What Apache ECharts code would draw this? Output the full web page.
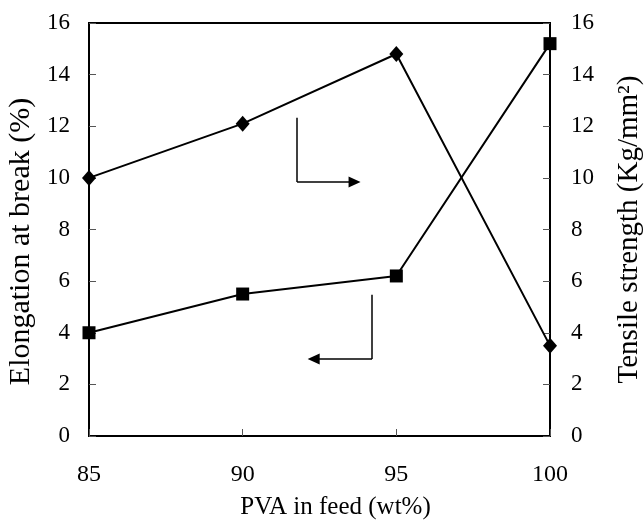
<!DOCTYPE html>
<html>
<head>
<meta charset="utf-8">
<script src="https://cdn.jsdelivr.net/npm/echarts@6/dist/echarts.min.js"></script>
<style>html,body{margin:0;padding:0;background:#fff}#c{width:644px;height:529px}</style>
</head>
<body>
<div id="c"></div>
<script>
const pva = [85, 90, 95, 100];
const elongation = [4.0, 5.5, 6.2, 15.2];
const tensile = [10.0, 12.1, 14.8, 3.5];
const yTicks = [0, 2, 4, 6, 8, 10, 12, 14, 16];
const xTicks = [85, 90, 95, 100];

const font = 'Liberation Serif';
const chart = echarts.init(document.getElementById('c'));
const axisCommon = {
  axisLine: {show: true, lineStyle: {color: '#000', width: 2}},
  axisTick: {show: true, inside: true, length: 7, lineStyle: {color: '#555', width: 1}},
  splitLine: {show: false},
  axisLabel: {color: '#000', fontFamily: font, fontSize: 23}
};
chart.setOption({
  animation: false,
  backgroundColor: '#fff',
  grid: {left: 89, right: 94, top: 23, bottom: 93, show: true, borderColor: '#000', borderWidth: 2,
         containLabel: false, outerBoundsMode: 'none'},
  xAxis: Object.assign({}, axisCommon, {
    type: 'value', min: xTicks[0], max: xTicks[xTicks.length-1], interval: 5,
    name: 'PVA in feed (wt%)', nameLocation: 'middle', nameGap: 59,
    nameTextStyle: {color: '#000', fontFamily: font, fontSize: 25, padding: [0, 0, 0, 32]},
    axisLabel: Object.assign({}, axisCommon.axisLabel, {margin: 27, fontSize: 24})
  }),
  yAxis: [
    Object.assign({}, axisCommon, {
      type: 'value', min: yTicks[0], max: yTicks[yTicks.length-1], interval: 2, position: 'left',
      name: 'Elongation at break (%)', nameLocation: 'middle', nameGap: 50,
      nameTextStyle: {color: '#000', fontFamily: font, fontSize: 30, padding: [0, 24, 0, 0]},
      axisLabel: Object.assign({}, axisCommon.axisLabel, {margin: 19})
    }),
    Object.assign({}, axisCommon, {
      type: 'value', min: yTicks[0], max: yTicks[yTicks.length-1], interval: 2, position: 'right',
      name: 'Tensile strength (Kg/mm²)', nameLocation: 'middle', nameGap: 65, nameRotate: 90,
      nameTextStyle: {color: '#000', fontFamily: font, fontSize: 29},
      axisLabel: Object.assign({}, axisCommon.axisLabel, {margin: 21})
    })
  ],
  series: [
    {
      type: 'line', yAxisIndex: 0,
      data: pva.map((x, i) => [x, elongation[i]]),
      symbol: 'rect', symbolSize: 13,
      lineStyle: {color: '#000', width: 2}, itemStyle: {color: '#000'},
      markLine: {
        silent: true, animation: false,
        lineStyle: {color: '#000', width: 1.5, type: 'solid'},
        label: {show: false},
        symbolSize: [11, 12],
        data: [
          [{coord: [94.21, 5.47], symbol: 'none'}, {coord: [94.21, 2.98], symbol: 'none'}],
          [{coord: [94.21, 2.98], symbol: 'none'}, {coord: [92.31, 2.98], symbol: 'triangle'}]
        ]
      }
    },
    {
      type: 'line', yAxisIndex: 1,
      data: pva.map((x, i) => [x, tensile[i]]),
      symbol: 'diamond', symbolSize: [14, 16],
      lineStyle: {color: '#000', width: 2}, itemStyle: {color: '#000'},
      markLine: {
        silent: true, animation: false,
        lineStyle: {color: '#000', width: 1.5, type: 'solid'},
        label: {show: false},
        symbolSize: [11, 12],
        data: [
          [{coord: [91.77, 12.33], symbol: 'none'}, {coord: [91.77, 9.84], symbol: 'none'}],
          [{coord: [91.77, 9.84], symbol: 'none'}, {coord: [93.64, 9.84], symbol: 'triangle'}]
        ]
      }
    }
  ]
});
</script>
</body>
</html>
